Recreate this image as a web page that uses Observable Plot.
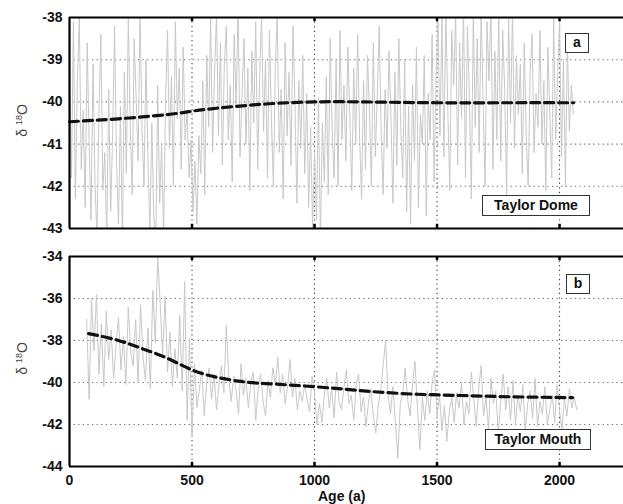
<!DOCTYPE html>
<html>
<head>
<meta charset="utf-8">
<script src="https://cdn.jsdelivr.net/npm/d3@7"></script>
<script src="https://cdn.jsdelivr.net/npm/@observablehq/plot@0.6"></script>
<style>
  html, body { margin: 0; padding: 0; background: #fff; }
  #wrap { position: relative; width: 623px; height: 504px; overflow: hidden; font-family: Arial, "Liberation Sans", sans-serif; }
  .panel { position: absolute; left: 0; }
  .box { position: absolute; box-sizing: border-box; border: 1.5px solid #333; background: #fff;
         font-weight: bold; font-size: 14px; color: #111; text-align: center; }
  .ylab { position: absolute; width: 80px; text-align: center; font-size: 14px; color: #444;
          transform: rotate(-90deg); transform-origin: center center; white-space: nowrap; }
  .ylab sup { font-size: 9px; }
  .xlab { position: absolute; font-weight: bold; font-size: 14px; color: #111; }
</style>
</head>
<body>
<div id="wrap"></div>
<script>
// ---------- DATA ----------
const xTicks = [0, 500, 1000, 1500, 2000];
const domeYTicks = [-43, -42, -41, -40, -39, -38];
const mouthYTicks = [-44, -42, -40, -38, -36, -34];

// Taylor Dome raw δ18O, sampled every 8 years from age 0
const domeStart = 0, domeStep = 8;
const domeValues = [
  -39.2,-41.8,-38.1,-42.3,-39.5,-38.0,-41.6,-40.2,-42.5,-38.6,
  -40.9,-42.8,-39.1,-41.9,-43.2,-40.3,-38.4,-42.1,-41.2,-43.3,
  -39.7,-42.6,-40.8,-38.2,-41.5,-42.9,-40.1,-43.4,-39.3,-41.7,
  -38.0,-40.6,-42.2,-38.5,-39.9,-41.4,-37.8,-40.7,-42.0,-39.0,
  -41.3,-43.1,-40.5,-42.7,-43.5,-39.6,-42.4,-41.0,-43.2,-40.0,
  -38.3,-41.1,-39.4,-42.0,-38.1,-40.4,-39.2,-41.6,-38.7,-40.9,
  -40.2,-41.8,-40.9,-42.6,-41.4,-42.9,-40.8,-41.7,-39.5,-42.2,
  -38.9,-40.6,-38.0,-41.2,-39.3,-37.9,-40.8,-38.6,-41.5,-39.1,
  -38.2,-40.9,-39.6,-41.9,-38.4,-40.1,-37.7,-41.3,-39.8,-38.5,
  -41.0,-39.2,-42.1,-38.8,-40.5,-38.1,-41.6,-39.4,-37.9,-40.7,
  -39.0,-41.8,-38.3,-40.4,-42.0,-39.1,-38.0,-41.2,-39.7,-42.3,
  -38.6,-40.8,-39.3,-41.5,-38.2,-40.0,-42.4,-39.5,-41.1,-38.9,
  -41.7,-39.8,-42.5,-40.6,-43.0,-41.2,-42.8,-39.9,-43.3,-40.5,
  -41.9,-39.4,-42.2,-38.5,-40.7,-41.8,-39.0,-42.0,-38.3,-40.9,
  -39.6,-41.4,-38.7,-40.3,-42.1,-39.2,-41.0,-38.4,-40.8,-42.3,
  -39.5,-41.6,-38.9,-40.2,-42.0,-38.6,-41.3,-39.9,-38.2,-40.7,
  -42.2,-39.7,-41.1,-38.8,-40.4,-42.4,-39.3,-41.5,-38.5,-40.6,
  -41.8,-39.0,-42.6,-40.1,-42.9,-39.6,-41.4,-38.7,-42.5,-40.3,
  -41.0,-38.9,-42.7,-39.8,-40.9,-38.4,-41.9,-39.4,-38.1,-40.8,
  -38.0,-41.3,-37.8,-40.2,-42.1,-38.3,-39.6,-37.9,-41.5,-38.6,
  -40.4,-37.7,-41.8,-38.2,-39.9,-42.3,-37.9,-40.6,-38.5,-41.2,
  -37.8,-40.0,-42.0,-38.1,-39.5,-37.7,-41.6,-38.8,-40.9,-37.9,
  -41.4,-38.3,-39.7,-42.2,-38.0,-40.5,-37.8,-41.1,-38.9,-40.3,
  -39.1,-41.7,-38.6,-40.8,-42.0,-39.3,-38.4,-41.2,-39.8,-40.6,
  -38.3,-41.0,-39.5,-42.1,-38.7,-40.2,-41.8,-38.0,-40.9,-39.4,
  -38.1,-41.3,-39.0,-42.0,-38.6,-40.7,-39.6,-40.3
];

// Taylor Dome smoothed curve
const domeSmoothAge = [0, 200, 400, 500, 600, 800, 1000, 1200, 1500, 1800, 2057];
const domeSmoothVal = [-40.47, -40.4, -40.3, -40.22, -40.15, -40.05, -40.0, -40.0, -40.02, -40.02, -40.02];

// Taylor Mouth raw δ18O, sampled every 10 years from age 70
const mouthStart = 70, mouthStep = 10;
const mouthValues = [
  -37.0,-40.8,-36.0,-38.5,-35.8,-39.6,-37.2,-40.2,-36.6,-38.9,
  -37.5,-39.8,-38.2,-36.9,-39.4,-37.8,-40.1,-36.4,-38.6,-39.2,
  -37.0,-40.0,-36.3,-38.8,-39.9,-37.4,-40.3,-35.6,-38.1,-34.0,
  -36.2,-38.7,-35.9,-39.5,-37.6,-40.2,-38.4,-39.8,-36.8,-40.4,
  -35.2,-41.8,-37.9,-42.6,-39.1,-41.2,-40.3,-39.4,-41.6,-40.0,
  -39.3,-40.8,-39.6,-41.3,-40.1,-39.2,-40.5,-37.3,-39.8,-40.9,
  -39.7,-40.4,-41.5,-39.1,-40.6,-39.8,-41.2,-40.0,-39.5,-41.8,
  -40.3,-39.6,-40.9,-41.6,-39.9,-40.7,-39.3,-40.1,-38.8,-40.5,
  -39.6,-41.0,-40.2,-38.9,-40.7,-39.8,-41.3,-40.4,-40.9,-40.1,
  -40.8,-41.4,-39.7,-40.5,-42.0,-41.0,-41.9,-40.6,-39.8,-41.2,
  -40.3,-41.7,-39.5,-40.9,-41.3,-40.2,-39.4,-41.0,-40.6,-41.8,
  -40.1,-39.6,-41.4,-40.7,-42.1,-41.0,-40.3,-41.6,-42.4,-41.1,
  -40.4,-39.2,-38.0,-40.6,-41.5,-40.2,-41.9,-43.6,-41.0,-40.5,
  -39.3,-40.8,-41.6,-40.1,-39.0,-41.2,-43.2,-40.7,-41.8,-40.4,
  -41.5,-40.0,-39.4,-41.7,-40.6,-42.3,-41.1,-42.8,-41.4,-40.7,
  -41.9,-40.5,-41.2,-40.0,-42.0,-40.9,-41.5,-39.5,-40.8,-42.1,
  -40.3,-39.2,-41.6,-40.7,-42.2,-39.8,-41.0,-40.4,-42.4,-40.9,
  -39.6,-41.3,-40.2,-41.8,-39.9,-42.0,-40.6,-41.4,-40.1,-42.3,
  -41.0,-40.4,-41.7,-39.8,-42.1,-40.9,-41.5,-40.2,-42.0,-41.3,
  -40.6,-41.9,-40.1,-41.4,-42.2,-40.8,-41.6,-40.3,-41.2,-40.7,
  -41.3
];

// Taylor Mouth smoothed curve
const mouthSmoothAge = [78, 200, 300, 400, 500, 600, 700, 800, 1000, 1200, 1400, 1600, 1800, 2053];
const mouthSmoothVal = [-37.67, -38.0, -38.4, -38.85, -39.4, -39.75, -39.95, -40.05, -40.2, -40.4, -40.55, -40.62, -40.68, -40.72];

// ---------- BUILD ----------
const domeRaw = domeValues.map((v, i) => ({age: domeStart + i * domeStep, v}));
const mouthRaw = mouthValues.map((v, i) => ({age: mouthStart + i * mouthStep, v}));
const domeSmooth = domeSmoothAge.map((a, i) => ({age: a, v: domeSmoothVal[i]}));
const mouthSmooth = mouthSmoothAge.map((a, i) => ({age: a, v: mouthSmoothVal[i]}));

const xDomain = [0, 2261];

function panel({raw, smooth, yTicks, height, marginTop, marginBottom, showX}) {
  const y0 = yTicks[0], y1 = yTicks[yTicks.length - 1];
  const tickLen = (y1 - y0) / 50;
  const marks = [
    Plot.ruleY(yTicks.slice(1, -1), {stroke: "#666", strokeWidth: 1.1, strokeDasharray: "1.2,3.4"}),
    Plot.ruleX(xTicks.slice(1), {stroke: "#333", strokeWidth: 1.1, strokeDasharray: "1.2,3.4"}),
    Plot.line(raw, {x: "age", y: "v", stroke: "#c8c8c8", strokeWidth: 1, clip: true}),
    Plot.line(smooth, {x: "age", y: "v", curve: "natural", stroke: "#111", strokeWidth: 3.2, strokeDasharray: "9,5"}),
    Plot.ruleX(xTicks.slice(1), {y1: y0, y2: y0 + tickLen, stroke: "#000", strokeWidth: 2.5}),
    Plot.ruleX(xTicks.slice(1), {y1: y1, y2: y1 - tickLen, stroke: "#000", strokeWidth: 2.5}),
    Plot.ruleY([y0, y1], {stroke: "#000", strokeWidth: 2.2}),
    Plot.ruleX([0], {stroke: "#000", strokeWidth: 2.2}),
    Plot.axisY({ticks: yTicks, tickSize: 0, tickPadding: 7, tickFormat: d => String(d), label: null, fontSize: 14, fontWeight: "bold"})
  ];
  if (showX) marks.push(Plot.axisX({ticks: xTicks, tickSize: 0, tickPadding: 9, tickFormat: d => String(d), label: null, fontSize: 14, fontWeight: "bold"}));
  return Plot.plot({
    width: 623, height, marginTop, marginBottom, marginLeft: 69, marginRight: 0,
    x: {domain: xDomain, axis: null},
    y: {domain: [y0, y1], axis: null},
    style: {fontFamily: "Arial, 'Liberation Sans', sans-serif", fontSize: "14px", fontWeight: "bold", color: "#111", background: "transparent", overflow: "visible"},
    marks
  });
}

const wrap = document.getElementById("wrap");
const topPanel = panel({raw: domeRaw, smooth: domeSmooth, yTicks: domeYTicks, height: 240, marginTop: 17, marginBottom: 12, showX: false});
topPanel.classList.add("panel"); topPanel.style.top = "0px";
const botPanel = panel({raw: mouthRaw, smooth: mouthSmooth, yTicks: mouthYTicks, height: 264, marginTop: 16, marginBottom: 38, showX: true});
botPanel.classList.add("panel"); botPanel.style.top = "240px";
wrap.appendChild(topPanel);
wrap.appendChild(botPanel);

function addDiv(cls, html, css) {
  const d = document.createElement("div");
  d.className = cls; d.innerHTML = html;
  Object.assign(d.style, css);
  wrap.appendChild(d);
}
addDiv("box", "a", {left: "565px", top: "33px", width: "24px", height: "20px", lineHeight: "17px"});
addDiv("box", "Taylor Dome", {left: "482px", top: "195px", width: "108px", height: "21px", lineHeight: "18px"});
addDiv("box", "b", {left: "566px", top: "274px", width: "24px", height: "20px", lineHeight: "17px"});
addDiv("box", "Taylor Mouth", {left: "485px", top: "429px", width: "106px", height: "21px", lineHeight: "18px"});
addDiv("ylab", "δ <sup>18</sup>O", {left: "-18px", top: "112px"});
addDiv("ylab", "δ <sup>18</sup>O", {left: "-18px", top: "350px"});
addDiv("xlab", "Age (a)", {left: "318px", top: "488px"});
</script>
</body>
</html>
